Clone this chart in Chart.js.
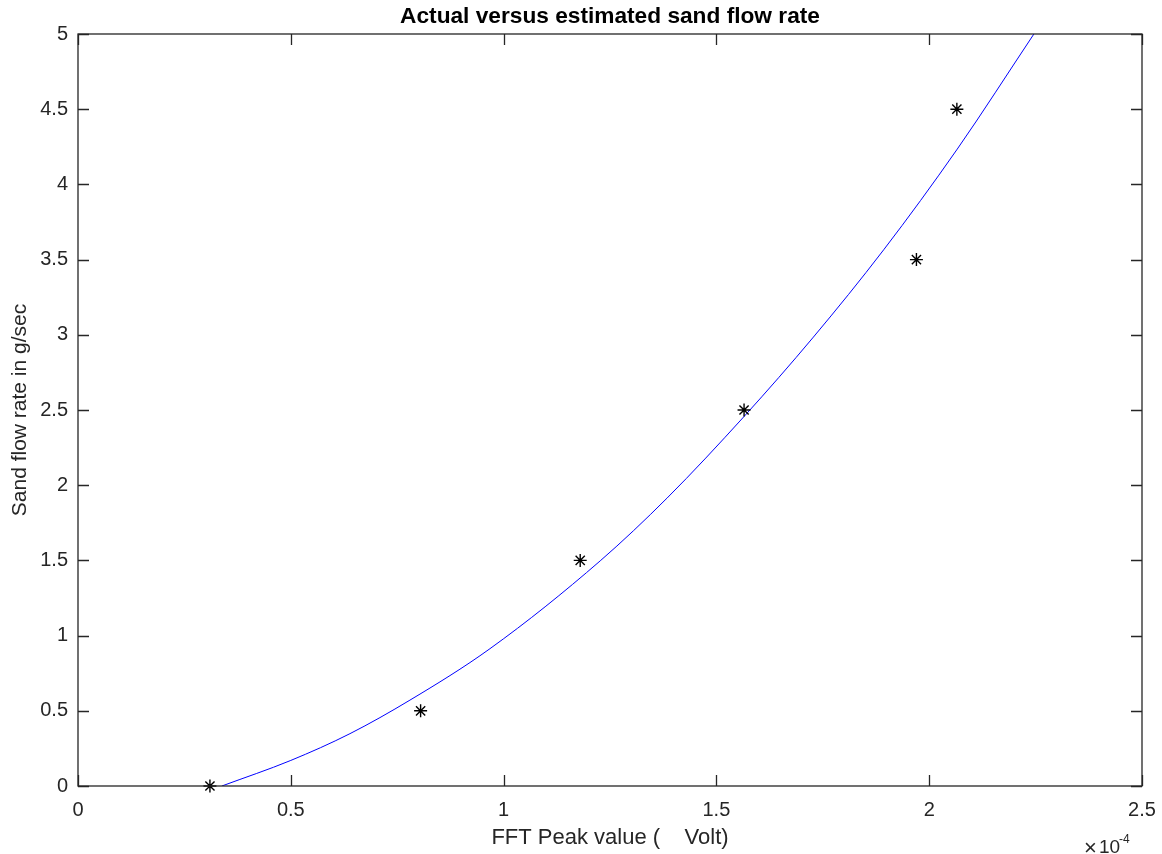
<!DOCTYPE html>
<html>
<head>
<meta charset="utf-8">
<script src="https://cdn.jsdelivr.net/npm/chart.js@4/dist/chart.umd.min.js"></script>
<style>
  html, body { margin: 0; padding: 0; background: #fff; }
  #wrap { width: 1162px; height: 854px; position: relative; }
</style>
</head>
<body>
<div id="wrap"><canvas id="chart"></canvas></div>
<script>
// ── Data (x in units of 1e-4 Volt) ──
const fftPeak   = [0.31, 0.805, 1.18, 1.565, 1.97, 2.065];
const sandFlow  = [0, 0.5, 1.5, 2.5, 3.5, 4.5];
const fitX      = [0.338, 0.5, 0.639, 0.780, 0.968, 1.227, 1.384, 1.566, 1.728, 1.893, 2.066, 2.246];
const fitY      = [0, 0.170, 0.348, 0.571, 0.913, 1.497, 1.914, 2.460, 2.985, 3.565, 4.235, 5.0];
const xTicks    = [0, 0.5, 1, 1.5, 2, 2.5];
const yTicks    = [0, 0.5, 1, 1.5, 2, 2.5, 3, 3.5, 4, 4.5, 5];
const chartTitle = 'Actual versus estimated sand flow rate';

const AXIS = '#262626';
const FONT = 'Liberation Sans, Arial, Helvetica, sans-serif';

// ── Box + inward ticks + title over the axes + exponent label ──
const matlabBox = {
  id: 'matlabBox',
  afterDraw(chart) {
    const { ctx, chartArea: a, scales: { x, y } } = chart;
    const len = 11;
    ctx.save();
    ctx.strokeStyle = AXIS;
    ctx.lineWidth = 1.3;
    ctx.beginPath();
    xTicks.forEach(v => {
      const px = Math.round(x.getPixelForValue(v)) + 0.5;
      ctx.moveTo(px, a.bottom); ctx.lineTo(px, a.bottom - len);
      ctx.moveTo(px, a.top);    ctx.lineTo(px, a.top + len);
    });
    yTicks.forEach(v => {
      const py = Math.round(y.getPixelForValue(v)) + 0.5;
      ctx.moveTo(a.left, py);  ctx.lineTo(a.left + len, py);
      ctx.moveTo(a.right, py); ctx.lineTo(a.right - len, py);
    });
    ctx.stroke();
    ctx.strokeRect(a.left, a.top, a.right - a.left, a.bottom - a.top);

    // title, centred over the plot box
    ctx.fillStyle = '#000';
    ctx.font = 'bold 22.7px ' + FONT;
    ctx.textAlign = 'center';
    ctx.textBaseline = 'middle';
    ctx.fillText(chartTitle, (a.left + a.right) / 2, 17);

    // ×10^-4
    ctx.fillStyle = AXIS;
    ctx.textBaseline = 'alphabetic';
    ctx.textAlign = 'left';
    ctx.font = '22px ' + FONT;
    ctx.fillText('\u00d7', 1084, 855);
    ctx.font = '19px ' + FONT;
    ctx.fillText('10', 1099, 853);
    ctx.font = '12px ' + FONT;
    ctx.fillText('-4', 1119, 843);
    ctx.restore();
  }
};

new Chart(document.getElementById('chart'), {
  type: 'scatter',
  data: {
    datasets: [
      {
        label: 'Actual',
        data: fftPeak.map((v, i) => ({ x: v, y: sandFlow[i] })),
        pointStyle: 'star',
        pointRadius: 6.5,
        pointBorderWidth: 1.4,
        borderColor: '#000',
        backgroundColor: '#000',
        showLine: false,
        clip: false,
      },
      {
        label: 'Estimated',
        data: fitX.map((v, i) => ({ x: v, y: fitY[i] })),
        showLine: true,
        borderColor: '#0000ff',
        borderWidth: 1,
        pointRadius: 0,
        cubicInterpolationMode: 'monotone',
      },
    ],
  },
  options: {
    responsive: true, maintainAspectRatio: false, animation: false,
    layout: { padding: { left: 0, right: 20, top: 34, bottom: 0 } },
    plugins: {
      legend: { display: false },
      tooltip: { enabled: false },
      title: { display: false },
    },
    scales: {
      x: {
        type: 'linear', min: 0, max: 2.5,
        afterBuildTicks: s => { s.ticks = xTicks.map(v => ({ value: v })); },
        afterFit: s => { s.height = 68; s.paddingLeft = 0; s.paddingRight = 0; },
        grid: { display: false, drawTicks: false },
        border: { display: false },
        ticks: { color: AXIS, padding: 12, font: { family: FONT, size: 20 }, callback: v => String(v) },
        title: {
          display: true, text: 'FFT Peak value (    Volt)', color: AXIS,
          font: { family: FONT, size: 22, lineHeight: 1.2 },
          padding: { top: 0, bottom: 2.5 },
        },
      },
      y: {
        type: 'linear', min: 0, max: 5,
        afterBuildTicks: s => { s.ticks = yTicks.map(v => ({ value: v })); },
        afterFit: s => { s.width = 78; s.paddingTop = 0; s.paddingBottom = 0; },
        grid: { display: false, drawTicks: false },
        border: { display: false },
        ticks: { color: AXIS, padding: 10, font: { family: FONT, size: 20 }, callback: v => String(v) },
        title: {
          display: true, text: 'Sand flow rate in g/sec', color: AXIS,
          font: { family: FONT, size: 21, lineHeight: 1.2 },
          padding: { top: 8, bottom: 0 },
        },
      },
    },
  },
  plugins: [matlabBox],
});
</script>
</body>
</html>
